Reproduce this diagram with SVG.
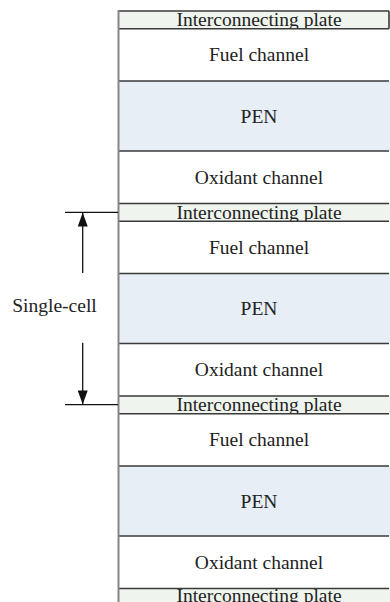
<svg xmlns="http://www.w3.org/2000/svg" width="390" height="602" viewBox="0 0 390 602">
  <defs>
    <marker id="head" viewBox="0 0 14 10" refX="14" refY="5" markerWidth="14" markerHeight="10" markerUnits="userSpaceOnUse" orient="auto">
      <path d="M0,0 L14,5 L0,10 Z" fill="#111"/>
    </marker>
  </defs>
  <style>
    .plate { fill: #eff5ee; }
    .fuel, .ox { fill: #ffffff; }
    .pen { fill: #e8eef6; }
    .sep { stroke: #3a3a3a; stroke-width: 1.6; fill: none; }
    .edge { stroke: #858585; stroke-width: 2; fill: none; }
    .lbl { font-family: "Liberation Serif", "Times New Roman", serif; font-size: 19.5px; fill: #222; text-anchor: middle; }
    .dim { stroke: #111; stroke-width: 1.3; fill: none; }
  </style>

  <rect width="390" height="602" fill="#ffffff"/>

  <!-- cell 1 -->
  <g id="plate-1"><rect class="plate" x="118.5" y="11" width="272" height="17.75"/><text class="lbl" x="259" y="26.4">Interconnecting plate</text></g>
  <g id="fuel-1"><rect class="fuel" x="118.5" y="28.75" width="272" height="52.25"/><text class="lbl" x="259" y="61.4">Fuel channel</text></g>
  <g id="pen-1"><rect class="pen" x="118.5" y="81" width="272" height="70"/><text class="lbl" x="259" y="122.5">PEN</text></g>
  <g id="oxidant-1"><rect class="ox" x="118.5" y="151" width="272" height="52.5"/><text class="lbl" x="259" y="183.75">Oxidant channel</text></g>

  <!-- cell 2 -->
  <g id="plate-2"><rect class="plate" x="118.5" y="203.5" width="272" height="17.75"/><text class="lbl" x="259" y="218.9">Interconnecting plate</text></g>
  <g id="fuel-2"><rect class="fuel" x="118.5" y="221.25" width="272" height="52.25"/><text class="lbl" x="259" y="253.9">Fuel channel</text></g>
  <g id="pen-2"><rect class="pen" x="118.5" y="273.5" width="272" height="70"/><text class="lbl" x="259" y="315">PEN</text></g>
  <g id="oxidant-2"><rect class="ox" x="118.5" y="343.5" width="272" height="52.5"/><text class="lbl" x="259" y="376.25">Oxidant channel</text></g>

  <!-- cell 3 -->
  <g id="plate-3"><rect class="plate" x="118.5" y="396" width="272" height="17.75"/><text class="lbl" x="259" y="411.4">Interconnecting plate</text></g>
  <g id="fuel-3"><rect class="fuel" x="118.5" y="413.75" width="272" height="52.25"/><text class="lbl" x="259" y="446.4">Fuel channel</text></g>
  <g id="pen-3"><rect class="pen" x="118.5" y="466" width="272" height="70"/><text class="lbl" x="259" y="507.5">PEN</text></g>
  <g id="oxidant-3"><rect class="ox" x="118.5" y="536" width="272" height="52.5"/><text class="lbl" x="259" y="568.75">Oxidant channel</text></g>

  <!-- cell 4 (partial, runs off the bottom) -->
  <g id="plate-4"><rect class="plate" x="118.5" y="588.5" width="272" height="17.75"/><text class="lbl" x="259" y="601.5">Interconnecting plate</text></g>

  <!-- layer boundaries -->
  <g id="boundaries">
    <path class="sep" d="M118.5,11 H389 M118.5,28.75 H389 M118.5,81 H389 M118.5,151 H389
                         M118.5,203.5 H389 M118.5,221.25 H389 M118.5,273.5 H389 M118.5,343.5 H389
                         M118.5,396 H389 M118.5,413.75 H389 M118.5,466 H389 M118.5,536 H389
                         M118.5,588.5 H389"/>
    <path class="sep" d="M389,11 V28.75"/>
    <path class="edge" d="M118.5,10 V602"/>
  </g>

  <!-- single-cell dimension -->
  <g id="connectors">
    <path class="dim" d="M65,212.3 H118"/>
    <path class="dim" d="M65,404.7 H118"/>
    <path class="dim" d="M82.7,273 V212.6" marker-end="url(#head)"/>
    <path class="dim" d="M82.7,342.7 V404.4" marker-end="url(#head)"/>
  </g>
  <g id="label-single-cell"><text class="lbl" x="54.5" y="311.7">Single-cell</text></g>
</svg>
